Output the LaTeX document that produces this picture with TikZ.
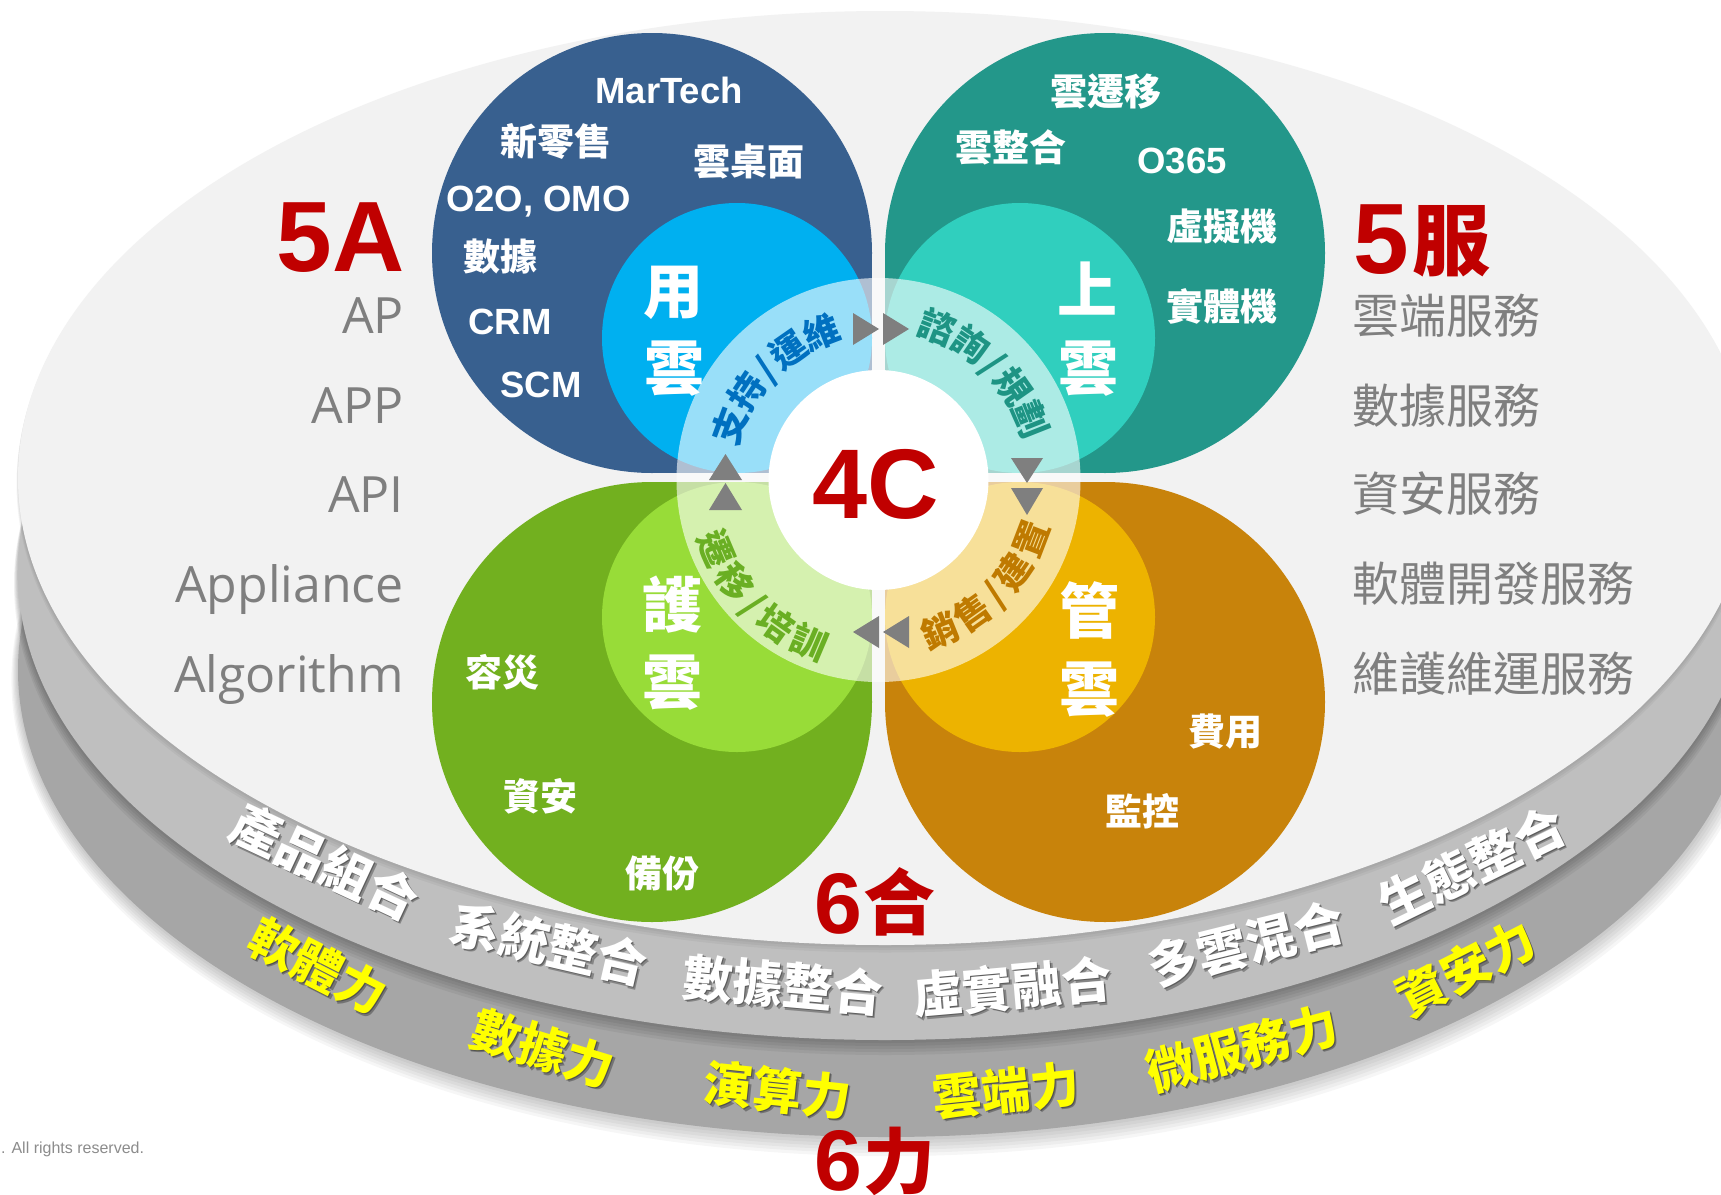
\documentclass[tikz,border=0pt]{standalone}
\usepackage{fontspec}
\setmainfont{Liberation Sans}
\newfontfamily\cjk{Noto Sans CJK TC}
\newfontfamily\osans{Open Sans}
\usetikzlibrary{calc}

\definecolor{faceC}{HTML}{F2F2F2}
\definecolor{bandA}{HTML}{BFBFBF}
\definecolor{bandB}{HTML}{A6A6A6}
\definecolor{pBlue}{HTML}{38608F}
\definecolor{iBlue}{HTML}{00B0F0}
\definecolor{pTeal}{HTML}{23978A}
\definecolor{iTeal}{HTML}{30CFBE}
\definecolor{pGreen}{HTML}{72B01F}
\definecolor{iGreen}{HTML}{98DC38}
\definecolor{pOrange}{HTML}{C8830B}
\definecolor{iOrange}{HTML}{EDB300}
\definecolor{redC}{HTML}{C00000}
\definecolor{grayT}{HTML}{7F7F7F}
\definecolor{arrowC}{HTML}{7F7F7F}
\definecolor{tBlue}{HTML}{0070C0}
\definecolor{tTeal}{HTML}{1E9484}
\definecolor{tGreen}{HTML}{6AAF23}
\definecolor{tOrange}{HTML}{BF7A00}
\definecolor{yel}{HTML}{FFFF00}
\definecolor{copyC}{HTML}{8C8C8C}

\begin{document}
\begin{tikzpicture}[x=1pt,y=-1pt,
  cjA/.style={inner sep=0pt, font=\cjk\bfseries\fontsize{37}{37}\selectfont, text=white, text height=30.7pt, text depth=2.6pt},
  ltA/.style={inner sep=0pt, font=\bfseries\fontsize{36.5}{36.5}\selectfont, text=white, text height=26.1pt, text depth=0pt},
  bigc/.style={inner sep=0pt, font=\cjk\bfseries\fontsize{60}{60}\selectfont, text=white, text height=49.8pt, text depth=4.2pt},
  ringch/.style={inner sep=0pt, font=\cjk\bfseries\fontsize{36}{36}\selectfont, text height=29.9pt, text depth=2.5pt},
  bandw/.style={inner sep=0pt, font=\cjk\bfseries\fontsize{50}{50}\selectfont, text=white, text height=41.5pt, text depth=3.5pt},
  bandy/.style={inner sep=0pt, font=\cjk\bfseries\fontsize{49}{49}\selectfont, text=yel, text height=40.7pt, text depth=3.4pt},
  shad/.style={text=black, text opacity=0.3},
  listR/.style={inner sep=0pt, anchor=west, font=\cjk\fontsize{47}{47}\selectfont, text=grayT, text height=39pt, text depth=3.3pt},
  listL/.style={inner sep=0pt, anchor=base east, font=\osans\fontsize{50}{50}\selectfont, text=grayT},
  redL/.style={inner sep=0pt, text=redC, font=\bfseries\fontsize{#1}{#1}\selectfont, text depth=0pt},
  redC/.style={inner sep=0pt, text=redC, font=\cjk\bfseries\fontsize{#1}{#1}\selectfont},
  tri/.style={fill=arrowC},
]
\useasboundingbox (0,0) rectangle (1721,1194);
\clip (0,0) rectangle (1721,1194);
\fill[white] (0,0) rectangle (1721,1194);

% ---- disk: lower band with soft shadow
\foreach \k in {1,...,6}
  \fill[black, opacity=0.035] (885+0.5*\k,670+1.6*\k) ellipse [x radius={867pt+1.6pt*\k}, y radius={467pt+1.6pt*\k}];
\fill[bandB] (885,670) ellipse [x radius=867pt, y radius=467pt];
% upper band with shadow on lower band
\foreach \k in {1,...,5}
  \fill[black, opacity=0.05] (885,573+2.2*\k) ellipse [x radius={867pt+0.8pt*\k}, y radius={467pt+0.8pt*\k}];
\fill[bandA] (885,573) ellipse [x radius=867pt, y radius=467pt];
% top face
\foreach \k in {1,...,3}
  \fill[black, opacity=0.04] (885,478+2*\k) ellipse [x radius={867pt+0.5pt*\k}, y radius={467pt+0.5pt*\k}];
\fill[faceC] (885,478) ellipse [x radius=867pt, y radius=467pt];

% ---- petals (teardrops)
\fill[pBlue] (652,253) circle [radius=220pt];
\fill[pBlue] (652,253) rectangle (872,473);
\fill[pTeal] (1105,253) circle [radius=220pt];
\fill[pTeal] (885,253) rectangle (1105,473);
\fill[pGreen] (652,702) circle [radius=220pt];
\fill[pGreen] (652,482) rectangle (872,702);
\fill[pOrange] (1105,702) circle [radius=220pt];
\fill[pOrange] (885,482) rectangle (1105,702);

% inner circles
\fill[iBlue] (737,338) circle [radius=135pt];
\fill[iTeal] (1020,338) circle [radius=135pt];
\fill[iGreen] (737,617) circle [radius=135pt];
\fill[iOrange] (1020,617) circle [radius=135pt];

% ---- ring and centre
\coordinate (rc) at (878.5,480);
\fill[white, opacity=0.6] (rc) circle [radius=202pt];
\fill[white] (rc) circle [radius=110pt];

% arrows
\fill[tri] (853,313) -- (853,345) -- (879,329) -- cycle;
\fill[tri] (883,313) -- (883,345) -- (909,329) -- cycle;
\fill[tri] (1011,458) -- (1043,458) -- (1027,483) -- cycle;
\fill[tri] (1011,488) -- (1043,488) -- (1027,515) -- cycle;
\fill[tri] (879,616) -- (879,648) -- (853,632) -- cycle;
\fill[tri] (909,616) -- (909,648) -- (883,632) -- cycle;
\fill[tri] (709,480) -- (742,480) -- (725.5,454) -- cycle;
\fill[tri] (709,510) -- (742,510) -- (725.5,483) -- cycle;

% ring texts (one character at a time along the ring)
\foreach \a/\c [count=\i] in {160/支,146.2/持,135.5/{/},124.8/運,111/維}
  \path (rc) ++({-1*(\a)}:158) node[ringch, text=tBlue, rotate={\a-90}] (ra\i) {\c};
\foreach \a/\c [count=\i] in {69/諮,55.65/詢,45.3/{/},34.95/規,21.6/劃}
  \path (rc) ++({-1*(\a)}:164) node[ringch, text=tTeal, rotate={\a-90}] (rb\i) {\c};
\foreach \a/\c [count=\i] in {-68/銷,-54.76/售,-44.5/{/},-34.24/建,-21/置}
  \path (rc) ++({-1*(\a)}:163) node[ringch, text=tOrange, rotate={\a+90}] (rcx\i) {\c};
\foreach \a/\c [count=\i] in {203/遷,215.4/移,225/{/},234.6/培,247/訓}
  \path (rc) ++({-1*(\a)}:176) node[ringch, text=tGreen, rotate={\a+90}] (rd\i) {\c};

\node[redL=99, text height=70.9pt] (fourc) at (876,483.5) {4C};

% ---- big labels
\node[bigc] (yong) at (673.5,291) {用};
\node[bigc] (yun1) at (674,368) {雲};
\node[bigc] (shang) at (1087.5,290) {上};
\node[bigc] (yun2) at (1088,368) {雲};
\node[bigc] (hu) at (672.5,605) {護};
\node[bigc] (yun3) at (672.5,682) {雲};
\node[bigc] (guan) at (1089.5,610.5) {管};
\node[bigc] (yun4) at (1089.5,688.5) {雲};

% ---- petal items
\node[ltA] (martech) at (669,90) {MarTech};
\node[cjA] (xls) at (556,141) {新零售};
\node[cjA] (yzm) at (749,161) {雲桌面};
\node[ltA] (o2o) at (538.5,198) {O2O, OMO};
\node[cjA] (sj) at (500,256) {數據};
\node[ltA] (crm) at (510,321) {CRM};
\node[ltA] (scm) at (541,384) {SCM};

\node[cjA] (yqy) at (1106,91) {雲遷移};
\node[cjA] (yzh) at (1011,147.5) {雲整合};
\node[ltA] (o365) at (1182,160) {O365};
\node[cjA] (xnj) at (1222,226.5) {虛擬機};
\node[cjA] (stj) at (1222,306.5) {實體機};

\node[cjA] (rz) at (502,672.5) {容災};
\node[cjA] (za) at (540,796) {資安};
\node[cjA] (bf) at (662.5,873.5) {備份};

\node[cjA] (fy) at (1225,731) {費用};
\node[cjA] (jk) at (1142,811) {監控};

% ---- left 5A
\node[redL=100, text height=71.6pt, anchor=east] (fiveA) at (405,236) {5A};
\node[listL] (ap) at (404,333) {AP};
\node[listL] (app) at (404,423) {APP};
\node[listL] (api) at (404,512) {API};
\node[listL] (appl) at (404,602) {Appliance};
\node[listL] (algo) at (404,692) {Algorithm};

% ---- right 5服
\node[redL=100, text height=71.6pt] (fiveB) at (1381,238) {5};
\node[redC=78, text height=64.7pt, text depth=5.5pt] (fu) at (1451,240) {服};
\node[listR] (r1) at (1352,315.7) {雲端服務};
\node[listR] (r2) at (1352,406) {數據服務};
\node[listR] (r3) at (1352,494) {資安服務};
\node[listR] (r4) at (1352,584) {軟體開發服務};
\node[listR] (r5) at (1352,674) {維護維運服務};

% ---- 6合 / 6力
\node[redL=86, text height=61.6pt] (sixA) at (838,902.5) {6};
\node[redC=72, text height=59.8pt, text depth=5pt] (he) at (899.5,902.5) {合};
\node[redL=86, text height=61.6pt] (sixB) at (838,1160) {6};
\node[redC=72, text height=59.8pt, text depth=5pt] (li) at (899.5,1161) {力};

% ---- band texts
\foreach \x/\y/\r/\t [count=\i] in {325/862/-25/產品組合, 549/944/-13/系統整合, 783/985/-5/數據整合, 1012/987/5/虛實融合, 1246/944/14/多雲混合, 1472/865/26/生態整合}{
  \node[bandw, shad, rotate=\r] (bws\i) at (\x+2.5,\y+2.5) {\t};
  \node[bandw, shad, rotate=\r] (bwt\i) at (\x+1,\y+1) {\t};
  \node[bandw, rotate=\r] (bw\i) at (\x,\y) {\t};
}
\foreach \x/\y/\r/\t [count=\i] in {318/966/-27/軟體力, 543/1048/-17/數據力, 778/1090/-6/演算力, 1006/1090/6/雲端力, 1242/1048/15/微服務力, 1466/968/27/資安力}{
  \node[bandy, shad, rotate=\r] (bys\i) at (\x+2.5,\y+2.5) {\t};
  \node[bandy, shad, rotate=\r] (byt\i) at (\x+1,\y+1) {\t};
  \node[bandy, rotate=\r] (by\i) at (\x,\y) {\t};
}

\node[anchor=west, inner sep=0pt, font=\fontsize{16}{16}\selectfont, text=copyC] (copy) at (1,1149) {. All rights reserved.};
\end{tikzpicture}
\end{document}
